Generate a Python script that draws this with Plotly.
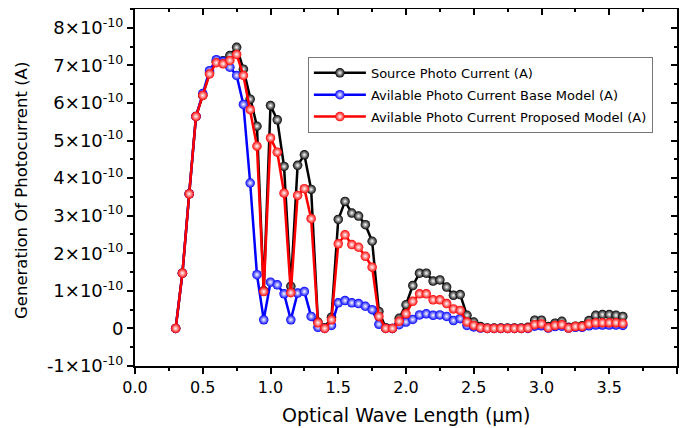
import plotly.graph_objects as go

# Wavelength (um)
wavelength = [0.30, 0.35, 0.40, 0.45, 0.50, 0.55, 0.60, 0.65, 0.70, 0.75,
              0.80, 0.85, 0.90, 0.95, 1.00, 1.05, 1.10, 1.15, 1.20, 1.25,
              1.30, 1.35, 1.40, 1.45, 1.50, 1.55, 1.60, 1.65, 1.70, 1.75,
              1.80, 1.85, 1.90, 1.95, 2.00, 2.05, 2.10, 2.15, 2.20, 2.25,
              2.30, 2.35, 2.40, 2.45, 2.50, 2.55, 2.60, 2.65, 2.70, 2.75,
              2.80, 2.85, 2.90, 2.95, 3.00, 3.05, 3.10, 3.15, 3.20, 3.25,
              3.30, 3.35, 3.40, 3.45, 3.50, 3.55, 3.60]

# Values in units of 1e-10 A
source_current = [0.00, 1.47, 3.58, 5.64, 6.20, 6.80, 7.10, 7.12, 7.26, 7.48,
                  6.90, 6.10, 5.38, 1.00, 5.93, 5.55, 4.31, 1.12, 4.34, 4.62,
                  3.70, 0.17, 0.02, 0.30, 2.90, 3.38, 3.07, 2.99, 2.76, 2.32,
                  0.45, 0.02, 0.00, 0.27, 0.63, 1.14, 1.47, 1.47, 1.26, 1.29,
                  1.10, 0.88, 0.90, 0.35, 0.17, 0.05, 0.01, 0.01, 0.01, 0.01,
                  0.01, 0.01, 0.03, 0.22, 0.22, 0.05, 0.14, 0.19, 0.03, 0.06,
                  0.07, 0.21, 0.35, 0.37, 0.37, 0.35, 0.32]

base_model = [0.00, 1.47, 3.58, 5.64, 6.25, 6.86, 7.15, 7.10, 6.95, 6.73,
              5.96, 3.87, 1.43, 0.23, 1.23, 1.16, 0.92, 0.23, 0.94, 0.98,
              0.32, 0.03, 0.00, 0.08, 0.68, 0.74, 0.68, 0.66, 0.59, 0.50,
              0.11, 0.00, 0.00, 0.10, 0.17, 0.24, 0.36, 0.39, 0.35, 0.36,
              0.32, 0.21, 0.26, 0.08, 0.04, 0.01, 0.00, 0.00, 0.00, 0.00,
              0.00, 0.00, 0.00, 0.06, 0.07, 0.01, 0.05, 0.06, 0.01, 0.03,
              0.03, 0.07, 0.09, 0.09, 0.09, 0.09, 0.08]

proposed_model = [0.00, 1.47, 3.58, 5.64, 6.20, 6.77, 7.07, 7.04, 7.13, 7.29,
                  6.73, 5.82, 4.85, 0.98, 5.07, 4.69, 3.60, 0.95, 3.54, 3.72,
                  2.92, 0.15, 0.00, 0.23, 2.25, 2.49, 2.23, 2.16, 1.92, 1.63,
                  0.32, 0.00, 0.00, 0.19, 0.39, 0.72, 0.92, 0.92, 0.76, 0.76,
                  0.66, 0.52, 0.48, 0.17, 0.08, 0.02, 0.00, 0.00, 0.00, 0.00,
                  0.00, 0.00, 0.01, 0.10, 0.12, 0.02, 0.08, 0.10, 0.01, 0.05,
                  0.05, 0.12, 0.15, 0.15, 0.15, 0.15, 0.13]

series_names = ["Source Photo Current (A)",
                "Avilable Photo Current Base Model (A)",
                "Avilable Photo Current Proposed Model (A)"]
series_colors = ["#000000", "#0000FF", "#FF0000"]

SCALE = 1e-10
y_tick_values = [-1, 0, 1, 2, 3, 4, 5, 6, 7, 8]
y_tick_labels = ["-1×10<sup>-10</sup>", "0", "1×10<sup>-10</sup>", "2×10<sup>-10</sup>",
                 "3×10<sup>-10</sup>", "4×10<sup>-10</sup>", "5×10<sup>-10</sup>",
                 "6×10<sup>-10</sup>", "7×10<sup>-10</sup>", "8×10<sup>-10</sup>"]
x_tick_values = [0.0, 0.5, 1.0, 1.5, 2.0, 2.5, 3.0, 3.5, 4.0]
x_tick_labels = ["0.0", "0.5", "1.0", "1.5", "2.0", "2.5", "3.0", "3.5", "4.0"]
x_title = "Optical Wave Length (μm)"
y_title = "Generation Of Photocurrent (A)"

fig = go.Figure()
for name, vals, col in zip(series_names, [source_current, base_model, proposed_model], series_colors):
    fig.add_trace(go.Scatter(
        x=wavelength, y=[v * SCALE for v in vals], name=name, mode="lines+markers",
        line=dict(color=col, width=2.5),
        marker=dict(symbol="circle", size=9.5, color=col,
                    gradient=dict(type="radial", color="#ffffff"),
                    line=dict(width=0)),
        legendgroup=name,
    ))

# empty helper traces so that the mirrored top/right tick axes get drawn
fig.add_trace(go.Scatter(x=[None], y=[None], xaxis="x2", yaxis="y", showlegend=False,
                         hoverinfo="skip", mode="lines"))
fig.add_trace(go.Scatter(x=[None], y=[None], xaxis="x", yaxis="y2", showlegend=False,
                         hoverinfo="skip", mode="lines"))

FONT = "DejaVu Sans, sans-serif"
ymin, ymax = -1 * SCALE, 8.5 * SCALE
yt = [v * SCALE for v in y_tick_values]
yminor = [(v + 0.5) * SCALE for v in y_tick_values]

axis_common = dict(showline=True, linecolor="black", linewidth=2, showgrid=False,
                   zeroline=False, automargin=False, tickwidth=1.5, tickcolor="black")

# the page body adds an 8px offset, so the figure is sized to fit the window
fig.update_layout(
    width=681, height=420,
    margin=dict(l=127, r=12, t=1, b=62),
    paper_bgcolor="white", plot_bgcolor="white",
    font=dict(family=FONT, color="black"),
    showlegend=True,
    legend=dict(x=0.319, y=0.866, xanchor="left", yanchor="top",
                bordercolor="#777777", borderwidth=1, bgcolor="white",
                font=dict(size=13, family=FONT), traceorder="grouped",
                tracegroupgap=2, itemwidth=52),
    xaxis=dict(range=[0, 4], tickmode="array", tickvals=x_tick_values, ticktext=x_tick_labels,
               ticks="outside", ticklen=6, mirror=True,
               minor=dict(ticks="outside", ticklen=3, tickwidth=1.5, dtick=0.25, tick0=0, tickcolor="black"),
               tickfont=dict(size=16, family=FONT), **axis_common),
    yaxis=dict(range=[ymin, ymax], tickmode="array", tickvals=yt, ticktext=y_tick_labels,
               ticks="outside", ticklen=6, mirror=True,
               minor=dict(ticks="outside", ticklen=3, tickwidth=1.5, tickvals=yminor, tickcolor="black"),
               tickfont=dict(size=18, family=FONT), **axis_common),
    xaxis2=dict(range=[0, 4], overlaying="x", side="top", anchor="y", tickmode="array",
                tickvals=x_tick_values, showticklabels=False, ticks="inside", ticklen=6,
                minor=dict(ticks="inside", ticklen=3, tickwidth=1.5, dtick=0.25, tick0=0, tickcolor="black"),
                **axis_common),
    yaxis2=dict(range=[ymin, ymax], overlaying="y", side="right", anchor="x", tickmode="array",
                tickvals=yt, showticklabels=False, ticks="inside", ticklen=6,
                minor=dict(ticks="inside", ticklen=3, tickwidth=1.5, tickvals=yminor, tickcolor="black"),
                **axis_common),
    annotations=[
        dict(text=x_title, xref="paper", yref="paper", x=0.5, y=-0.138,
             xanchor="center", yanchor="middle", showarrow=False,
             font=dict(size=19, family=FONT)),
        dict(text=y_title, xref="paper", yref="paper", x=-0.2085, y=0.493,
             xanchor="center", yanchor="middle", showarrow=False, textangle=-90,
             font=dict(size=16.5, family=FONT)),
    ],
)

fig.write_html("out.html")
